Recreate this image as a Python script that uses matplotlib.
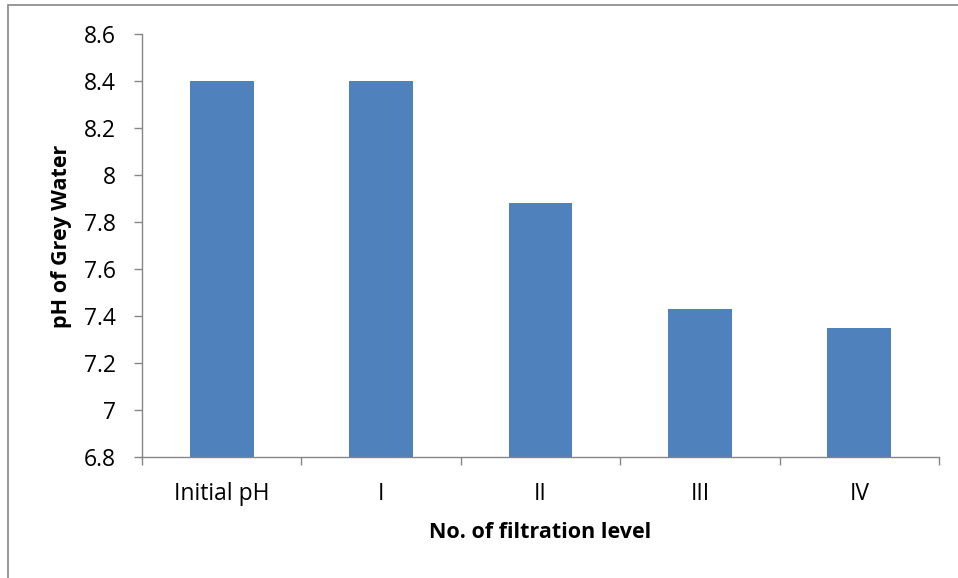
import matplotlib
matplotlib.use("Agg")
import matplotlib.pyplot as plt
from matplotlib.patches import Rectangle

categories = ["Initial pH", "I", "II", "III", "IV"]
values = [8.40, 8.40, 7.88, 7.43, 7.35]
yticks = [6.8, 7.0, 7.2, 7.4, 7.6, 7.8, 8.0, 8.2, 8.4, 8.6]
ytick_labels = ["6.8", "7", "7.2", "7.4", "7.6", "7.8", "8", "8.2", "8.4", "8.6"]

plt.rcParams['font.family'] = ['Open Sans', 'DejaVu Sans']

W, H = 958, 578
fig = plt.figure(figsize=(W / 100, H / 100), dpi=100)
ax = fig.add_axes([142 / W, (H - 457) / H, (939 - 142) / W, (457 - 34) / H])

x = list(range(len(categories)))
ax.bar(x, values, width=0.4, color="#4F81BD")
ax.set_ylim(6.8, 8.6)
ax.set_xlim(-0.5, len(categories) - 0.5)
ax.set_yticks(yticks)
ax.set_yticklabels(ytick_labels, fontsize=16.5)
ax.set_xticks(x)
ax.set_xticklabels(categories, fontsize=16.5)
ax.set_xticks([i - 0.5 for i in range(len(categories) + 1)], minor=True)
ax.tick_params(axis='x', which='major', length=0, pad=18)
ax.tick_params(axis='x', which='minor', length=5.8, width=1.0, color="#868686", direction='out')
ax.tick_params(axis='y', length=5.8, width=1.0, color="#868686", direction='out', pad=13)

for s in ["top", "right"]:
    ax.spines[s].set_visible(False)
for s in ["left", "bottom"]:
    ax.spines[s].set_color("#868686")
    ax.spines[s].set_linewidth(1.0)

fig.text(62 / W, 1 - 236 / H, "pH of Grey Water", rotation=90, ha='center', va='center',
         fontsize=15.5, fontweight='bold')
fig.text(540 / W, 1 - 532 / H, "No. of filtration level", ha='center', va='center',
         fontsize=15.5, fontweight='bold')

fig.patches.append(Rectangle((8 / W, -0.1), 1.2, (573 / H) + 0.1, transform=fig.transFigure,
                             fill=False, edgecolor="#868686", linewidth=1.2))

fig.savefig("out.png", dpi=100)
